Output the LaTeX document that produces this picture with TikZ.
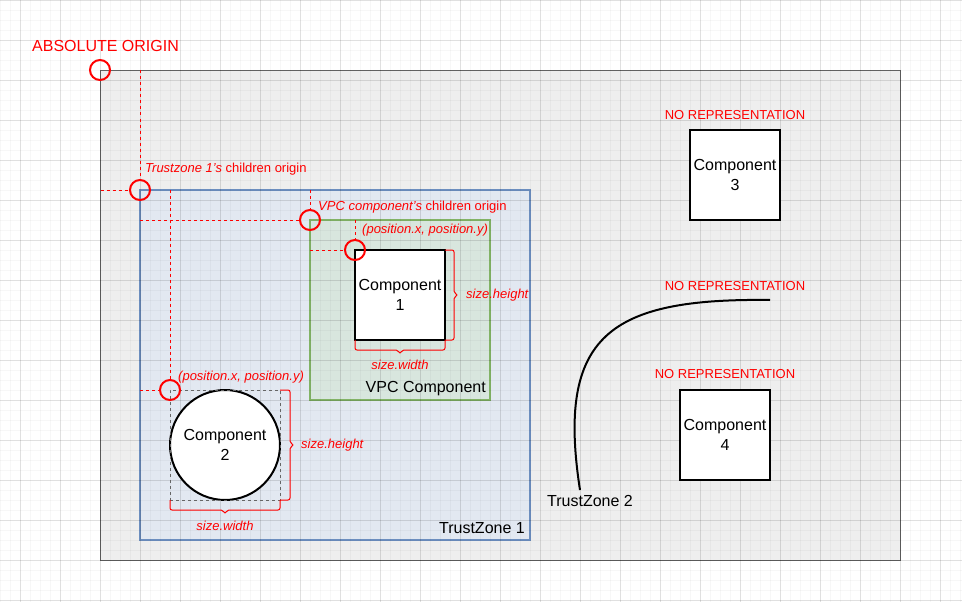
\documentclass[tikz,border=0pt]{standalone}
\usepackage{fontspec}
\setmainfont{Liberation Sans}
\usetikzlibrary{positioning}

\definecolor{originred}{RGB}{255,0,0}
\definecolor{worldgray}{RGB}{238,238,238}
\definecolor{tzfill}{RGB}{226,232,241}
\definecolor{tzline}{RGB}{108,142,191}
\definecolor{vpcfill}{RGB}{216,230,222}
\definecolor{vpcline}{RGB}{130,179,102}

\newcommand{\labelfont}{\fontsize{16}{19.3}\selectfont}
\newcommand{\notefont}{\fontsize{13}{15}\selectfont}
\newcommand{\tagfont}{\fontsize{13}{15}\selectfont}

\begin{document}
\begin{tikzpicture}[x=1pt, y=-1pt,
    comp/.style={draw=black, line width=2pt, fill=white, minimum width=90pt, minimum height=90pt, inner sep=0pt, outer sep=0pt, align=center, font=\labelfont},
    origin/.style={draw=originred, line width=2pt, circle, minimum size=20pt, inner sep=0pt, outer sep=0pt},
    guide/.style={draw=originred, line width=1pt, dash pattern=on 3pt off 3pt},
    bracket/.style={draw=originred, line width=1pt, rounded corners=2pt},
    note/.style={text=originred, font=\notefont\itshape, inner sep=0pt},
    tag/.style={text=originred, font=\tagfont, inner sep=0pt},
    minorgrid/.style={draw=black, opacity=0.03, line width=1pt},
    majorgrid/.style={draw=black, opacity=0.09, line width=1pt}]

    \useasboundingbox (0,0) rectangle (962,602);
    \fill[white] (0,0) rectangle (962,602);

    % Containers
    \node[draw=black!60, line width=1pt, fill=worldgray, minimum width=800pt, minimum height=490pt, outer sep=0pt] (world) at (500.5,315.5) {};
    \node[draw=tzline, line width=2pt, fill=tzfill, minimum width=390pt, minimum height=350pt, outer sep=0pt] (tz1) at (335,365) {};
    \node[draw=vpcline, line width=2pt, fill=vpcfill, minimum width=180pt, minimum height=180pt, outer sep=0pt] (vpc) at (400,310) {};

    % Background grid
    \foreach \gx in {0,10,...,960} \draw[minorgrid] (\gx+0.5,0) -- (\gx+0.5,602);
    \foreach \gy in {0,10,...,600} \draw[minorgrid] (0,\gy+0.5) -- (962,\gy+0.5);
    \foreach \gx in {20,60,...,940} \draw[majorgrid] (\gx+0.5,0) -- (\gx+0.5,602);
    \foreach \gy in {0,40,...,600} \draw[majorgrid] (0,\gy+0.5) -- (962,\gy+0.5);

    % Zone labels
    \node[font=\labelfont, inner sep=0pt, anchor=east] (tz1lbl) at (525,528.5) {TrustZone 1};
    \node[font=\labelfont, inner sep=0pt, anchor=east] (vpclbl) at (486,389) {VPC Component};

    % Components
    \node[comp] (c1) at (400,295) {Component\\1};
    \node[comp, circle, minimum size=110pt] (c2) at (225,445) {Component\\2};
    \node[draw=black!60, line width=1pt, dash pattern=on 3pt off 3pt, minimum width=110pt, minimum height=110pt, outer sep=0pt] (c2box) at (c2) {};
    \node[comp] (c3) at (735,175) {Component\\3};
    \node[comp] (c4) at (725,435) {Component\\4};

    % Origins
    \node[origin] (absorig) at (100,70) {};
    \node[origin] (tzorig) at (140,190) {};
    \node[origin] (vpcorig) at (310,220) {};
    \node[origin] (c1orig) at (355,250) {};
    \node[origin] (c2orig) at (170,390) {};
    \node[text=originred, font=\labelfont, inner sep=0pt, anchor=west] (abslbl) at (32,46) {ABSOLUTE ORIGIN};

    % Guide lines to the origins
    \draw[guide] (world.north -| tzorig) -- (tzorig);
    \draw[guide] (world.west |- tzorig) -- (tzorig);
    \draw[guide] (tz1.north -| vpcorig) -- (vpcorig);
    \draw[guide] (tz1.west |- vpcorig) -- (vpcorig);
    \draw[guide] (vpc.north -| c1orig) -- (c1orig);
    \draw[guide] (vpc.west |- c1orig) -- (c1orig);
    \draw[guide] (tz1.north -| c2orig) -- (c2orig);
    \draw[guide] (tz1.west |- c2orig) -- (c2orig);

    \node[note, anchor=west] (tznote) at (145,169) {Trustzone 1's {\upshape children origin}};
    \node[note, anchor=west] (vpcnote) at (318,207) {VPC component's {\upshape children origin}};
    \node[note, anchor=west] (c1pos) at (362,230) {(position.x, position.y)};
    \node[note, anchor=west] (c2pos) at (178,377) {(position.x, position.y)};

    % Size brackets
    \draw[bracket] (c1.north east) -- ++(9,0) -- ++(0,43) -- ++(4,2) -- ++(-4,2) -- ++(0,43) -- ++(-9,0);
    \node[note, right=21pt of c1.east] (c1h) {size.height};
    \draw[bracket] (c1.south west) -- ++(0,10) -- ++(43,0) -- ++(2,4) -- ++(2,-4) -- ++(43,0) -- ++(0,-10);
    \node[note, below=20pt of c1.south] (c1w) {size.width};
    \draw[bracket] (c2box.north east) -- ++(10,0) -- ++(0,53) -- ++(4,2) -- ++(-4,2) -- ++(0,53) -- ++(-10,0);
    \node[note, right=21pt of c2box.east] (c2h) {size.height};
    \draw[bracket] (c2box.south west) -- ++(0,10) -- ++(53,0) -- ++(2,4) -- ++(2,-4) -- ++(53,0) -- ++(0,-10);
    \node[note, below=21pt of c2box.south] (c2w) {size.width};

    % TrustZone 2 (no box, just a curve)
    \coordinate (tz2start) at (580,490);
    \coordinate (tz2end) at (770,300);
    \draw[line width=2pt] (tz2start) .. controls (556,335) and (610,298) .. (tz2end);
    \node[font=\labelfont, inner sep=0pt] (tz2lbl) at (590,501) {TrustZone 2};

    % Not represented
    \node[tag] (c3tag) at (735,115.5) {NO REPRESENTATION};
    \node[tag] (tz2tag) at (735,286) {NO REPRESENTATION};
    \node[tag] (c4tag) at (725,374) {NO REPRESENTATION};
\end{tikzpicture}
\end{document}
